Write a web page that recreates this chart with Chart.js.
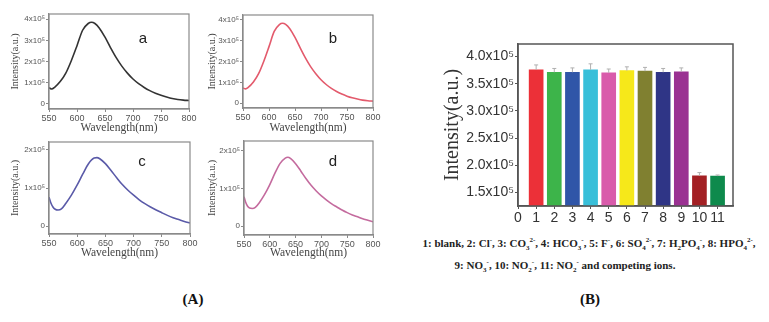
<!DOCTYPE html>
<html>
<head>
<meta charset="utf-8">
<script src="https://cdn.jsdelivr.net/npm/chart.js@4.4.0/dist/chart.umd.min.js"></script>
<style>
  body { margin: 0; background: #fff; }
  #wrap { position: relative; width: 769px; height: 322px; overflow: hidden; background: #fff; }
  canvas { position: absolute; }
  .tag { position: absolute; font-family: 'Liberation Sans', Arial, sans-serif; font-size: 15px; color: #222; transform: translate(-50%, -50%); }
  .cap { position: absolute; font-family: 'Liberation Serif', 'Times New Roman', serif; font-weight: bold; font-size: 11px; color: #222; white-space: nowrap; transform: translate(-50%, -50%); }
  .cap sub, .cap sup { font-size: 7px; line-height: 0; }
  .panel { position: absolute; font-family: 'Liberation Serif', 'Times New Roman', serif; font-weight: bold; font-size: 15px; color: #111; transform: translate(-50%, -50%); }
</style>
</head>
<body>
<div id="wrap">
  <canvas id="specA" width="200" height="140" style="left:0px;top:0px;width:200px;height:140px"></canvas>
  <canvas id="specB" width="190" height="140" style="left:200px;top:0px;width:190px;height:140px"></canvas>
  <canvas id="specC" width="200" height="130" style="left:0px;top:135px;width:200px;height:130px"></canvas>
  <canvas id="specD" width="190" height="130" style="left:200px;top:135px;width:190px;height:130px"></canvas>
  <canvas id="ions" width="339" height="210" style="left:430px;top:20px;width:339px;height:210px"></canvas>

  <div class="tag" style="left:143px;top:37px">a</div>
  <div class="tag" style="left:333px;top:37px">b</div>
  <div class="tag" style="left:142px;top:160px">c</div>
  <div class="tag" style="left:333px;top:160px">d</div>

  <div class="cap" style="left:589px;top:243px">1: blank, 2: Cl<sup>-</sup>, 3: CO<sub>3</sub><sup>2-</sup>, 4: HCO<sub>3</sub><sup>-</sup>, 5: F<sup>-</sup>, 6: SO<sub>4</sub><sup>2-</sup>, 7: H<sub>2</sub>PO<sub>4</sub><sup>-</sup>, 8: HPO<sub>4</sub><sup>2-</sup>,</div>
  <div class="cap" style="left:565px;top:265px">9: NO<sub>3</sub><sup>-</sup>, 10: NO<sub>2</sub><sup>-</sup>, 11: NO<sub>2</sub><sup>-</sup> and competing ions.</div>

  <div class="panel" style="left:193px;top:299px">(A)</div>
  <div class="panel" style="left:590px;top:299px">(B)</div>
</div>

<script>
// emission spectra, intensity in units of 1e5 a.u.
const waveUpper = [550, 555, 560, 570, 580, 590, 600, 610, 620, 626, 632, 640, 650, 660, 670, 680, 690, 700, 710, 720, 730, 740, 750, 760, 770, 780, 790, 800];
const specA = [0.76, 0.70, 0.78, 1.05, 1.45, 2.05, 2.75, 3.48, 3.80, 3.86, 3.80, 3.58, 3.15, 2.65, 2.18, 1.78, 1.45, 1.17, 0.95, 0.77, 0.62, 0.50, 0.40, 0.32, 0.25, 0.20, 0.17, 0.15];
const specB = [0.73, 0.69, 0.76, 1.02, 1.42, 2.02, 2.72, 3.45, 3.78, 3.84, 3.79, 3.58, 3.16, 2.66, 2.18, 1.76, 1.42, 1.13, 0.90, 0.71, 0.56, 0.44, 0.34, 0.26, 0.20, 0.15, 0.12, 0.10];

const waveLower = [550, 553, 557, 561, 566, 572, 580, 590, 600, 610, 620, 630, 635, 640, 650, 660, 670, 680, 690, 700, 710, 720, 730, 740, 750, 760, 770, 780, 790, 800];
const specC = [0.76, 0.62, 0.50, 0.44, 0.42, 0.45, 0.60, 0.82, 1.08, 1.37, 1.64, 1.79, 1.80, 1.77, 1.64, 1.46, 1.27, 1.09, 0.94, 0.81, 0.69, 0.59, 0.50, 0.42, 0.35, 0.28, 0.22, 0.17, 0.12, 0.08];
const specD = [0.78, 0.64, 0.53, 0.48, 0.47, 0.50, 0.63, 0.84, 1.10, 1.40, 1.66, 1.80, 1.82, 1.79, 1.65, 1.46, 1.26, 1.08, 0.93, 0.80, 0.69, 0.59, 0.51, 0.43, 0.36, 0.30, 0.25, 0.20, 0.16, 0.12];

const waveTicks = [550, 600, 650, 700, 750, 800];
const upperTicks = [0, 1, 2, 3, 4];
const lowerTicks = [0, 1, 2];

// interference test
const ionIds = [1, 2, 3, 4, 5, 6, 7, 8, 9, 10, 11];
const ionValues = [3.755, 3.71, 3.71, 3.755, 3.70, 3.74, 3.73, 3.71, 3.72, 1.805, 1.80];
const ionErrors = [0.09, 0.07, 0.08, 0.11, 0.07, 0.07, 0.07, 0.07, 0.07, 0.06, 0.02];
const ionColors = ['#ec3038', '#3db44a', '#3056a8', '#38bfd9', '#d95bab', '#f6e81a', '#808030', '#2f3586', '#9a3192', '#a32024', '#0e8a4c'];
const ionXTicks = [0, 1, 2, 3, 4, 5, 6, 7, 8, 9, 10, 11];
const ionYTicks = [1.5, 2.0, 2.5, 3.0, 3.5, 4.0];

const SANS = "'Liberation Sans', Arial, sans-serif";
const SERIF = "'Liberation Serif', 'Times New Roman', serif";

// box around the plot area
const frame = {
  id: 'frame',
  afterDraw(chart, args, opts) {
    const { ctx, chartArea: a } = chart;
    ctx.save();
    ctx.strokeStyle = opts.color || '#888';
    ctx.lineWidth = opts.width || 1;
    ctx.strokeRect(a.left, a.top, a.right - a.left, a.bottom - a.top);
    ctx.restore();
  }
};

const errorBars = {
  id: 'errorBars',
  afterDatasetsDraw(chart) {
    const { ctx, scales: { x, y } } = chart;
    ctx.save();
    ctx.strokeStyle = '#b0b0b0';
    ctx.lineWidth = 1;
    ionIds.forEach((id, i) => {
      const px = x.getPixelForValue(id);
      const base = y.getPixelForValue(ionValues[i]);
      const top = y.getPixelForValue(ionValues[i] + ionErrors[i]);
      ctx.beginPath();
      ctx.moveTo(px, base);
      ctx.lineTo(px, top);
      ctx.moveTo(px - 2, top);
      ctx.lineTo(px + 2, top);
      ctx.stroke();
    });
    ctx.restore();
  }
};

function sci(v) {
  return v === 0 ? '0' : v + 'x10\u2075';
}

function spectrumChart(id, xs, ys, color, yMin, yMax, yTicks, box) {
  new Chart(document.getElementById(id), {
    type: 'line',
    data: {
      datasets: [{
        data: xs.map((x, i) => ({ x: x, y: ys[i] })),
        borderColor: color,
        borderWidth: 1.6,
        pointRadius: 0,
        cubicInterpolationMode: 'monotone',
        fill: false
      }]
    },
    options: {
      responsive: false,
      animation: false,
      layout: { padding: { top: box.top, right: box.right, left: 0, bottom: 0 } },
      plugins: { legend: { display: false }, tooltip: { enabled: false }, frame: { color: '#8a8a8a', width: 1.2 } },
      scales: {
        x: {
          type: 'linear', min: 550, max: 800,
          afterBuildTicks: s => { s.ticks = waveTicks.map(v => ({ value: v })); },
          afterFit: s => { s.height = box.xh; },
          grid: { drawOnChartArea: false, tickLength: 3, color: '#8a8a8a' },
          border: { color: '#8a8a8a', width: 1.2 },
          ticks: { font: { family: SANS, size: 9 }, color: '#555', padding: 1, maxRotation: 0, autoSkip: false },
          title: { display: true, text: 'Wavelength(nm)', font: { family: SERIF, size: 11.5 }, color: '#444', padding: box.xtPad }
        },
        y: {
          type: 'linear', min: yMin, max: yMax,
          afterBuildTicks: s => { s.ticks = yTicks.map(v => ({ value: v })); },
          afterFit: s => { s.width = box.yw; },
          grid: { drawOnChartArea: false, tickLength: 3, color: '#8a8a8a' },
          border: { color: '#8a8a8a', width: 1.2 },
          ticks: { font: { family: SANS, size: 8 }, color: '#555', padding: 1, callback: v => sci(v) },
          title: { display: true, text: 'Intensity(a.u.)', font: { family: SERIF, size: 10 }, color: '#444', padding: box.ytPad }
        }
      }
    },
    plugins: [frame]
  });
}

spectrumChart('specA', waveUpper, specA, '#333333', -0.25, 4.25, upperTicks, { top: 14, right: 11, xh: 31, yw: 49, xtPad: 5, ytPad: 9 });
spectrumChart('specB', waveUpper, specB, '#e35a6c', -0.23, 4.24, upperTicks, { top: 15, right: 17, xh: 32, yw: 43, xtPad: 5, ytPad: 6 });
spectrumChart('specC', waveLower, specC, '#5a5aa8', -0.21, 2.21, lowerTicks, { top: 7, right: 10, xh: 31, yw: 49, xtPad: 5, ytPad: 9 });
spectrumChart('specD', waveLower, specD, '#c46b9e', -0.23, 2.25, lowerTicks, { top: 6, right: 17, xh: 30, yw: 44, xtPad: 5, ytPad: 6 });

new Chart(document.getElementById('ions'), {
  type: 'bar',
  data: {
    datasets: [{
      data: ionIds.map((x, i) => ({ x: x, y: ionValues[i] })),
      backgroundColor: ionColors,
      barThickness: 14
    }]
  },
  options: {
    responsive: false,
    animation: false,
    layout: { padding: { top: 24, right: 36, left: 0, bottom: 0 } },
    plugins: { legend: { display: false }, tooltip: { enabled: false }, frame: { color: '#555', width: 1.5 } },
    scales: {
      x: {
        type: 'linear', min: 0, max: 11.85, offset: false,
        afterBuildTicks: s => { s.ticks = ionXTicks.map(v => ({ value: v })); },
        afterFit: s => { s.height = 24; },
        grid: { drawOnChartArea: false, offset: false, tickLength: 3, color: '#555' },
        border: { color: '#555', width: 1.5 },
        ticks: { font: { family: SANS, size: 14 }, color: '#333', padding: 1, maxRotation: 0, autoSkip: false }
      },
      y: {
        type: 'linear', min: 1.25, max: 4.23,
        afterBuildTicks: s => { s.ticks = ionYTicks.map(v => ({ value: v })); },
        afterFit: s => { s.width = 88; },
        grid: { drawOnChartArea: false, tickLength: 3, color: '#555' },
        border: { color: '#555', width: 1.5 },
        ticks: { font: { family: SANS, size: 14 }, color: '#333', padding: 1, callback: v => v.toFixed(1) + 'x10\u2075' },
        title: { display: true, text: 'Intensity(a.u.)', font: { family: SERIF, size: 20 }, color: '#333', padding: 11 }
      }
    }
  },
  plugins: [frame, errorBars]
});
</script>
</body>
</html>
